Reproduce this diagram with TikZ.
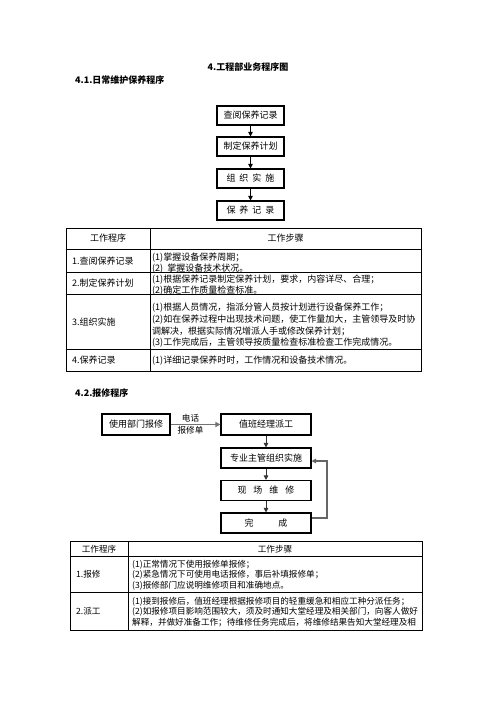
\documentclass[tikz,border=0pt]{standalone}
\usepackage{fontspec}
\setmainfont{Noto Sans CJK SC}
\usetikzlibrary{arrows.meta}
\newcommand\tfA{\fontsize{9}{11}\selectfont}
\newcommand\tfB{\fontsize{8.6}{10}\selectfont}
\begin{document}
\begin{tikzpicture}[x=1pt,y=-1pt,
  fbox/.style={draw=black, line width=1.1pt, inner sep=0, font=\tfA},
  arr/.style={-{Triangle[length=4.5pt,width=4.5pt]}, line width=1pt},
  tl/.style={anchor=base west, inner sep=0, font=\tfA},
  tc/.style={anchor=base, inner sep=0, font=\tfA},
  ul/.style={anchor=base west, inner sep=0, font=\tfB},
  uc/.style={anchor=base, inner sep=0, font=\tfB},
  tbl/.style={line width=0.9pt, draw=black},
  head/.style={inner sep=0, font=\fontsize{9}{9}\selectfont\bfseries}]
\useasboundingbox (0,0) rectangle (496,702);
\fill[white] (0,0) rectangle (496,702);

% headings
\node[head] (title) at (248,67) {4.工程部业务程序图};
\node[head, anchor=west] (sec1) at (75,80) {4.1.日常维护保养程序};
\node[head, anchor=west] (sec2) at (75,393) {4.2.报修程序};

% flowchart 1
\node[fbox, minimum width=67pt, minimum height=19pt] (a1) at (250.5,115.5) {查阅保养记录};
\node[fbox, minimum width=67pt, minimum height=19pt] (a2) at (250.5,146.5) {制定保养计划};
\node[fbox, minimum width=67pt, minimum height=19pt] (a3) at (250.5,178.5) {组\hspace{4pt}织\hspace{4pt}实\hspace{4pt}施};
\node[fbox, minimum width=67pt, minimum height=19pt] (a4) at (250.5,210.5) {保\hspace{4pt}养\hspace{4pt}记\hspace{4pt}录};
\draw[arr] (a1.south) -- (a2.north);
\draw[arr] (a2.south) -- (a3.north);
\draw[arr] (a3.south) -- (a4.north);

% table 1
\draw[tbl] (66,228) rectangle (421,371);
\foreach \yy in {249,272,294,349} \draw[tbl] (66,\yy) -- (421,\yy);
\draw[tbl] (150,228) -- (150,371);
\node[tc] (h1a) at (108,241.5) {工作程序};
\node[tc] (h1b) at (285.5,241.5) {工作步骤};
\node[tl] (p1) at (72,264) {1.查阅保养记录};
\node[tl] (p2) at (72,286.5) {2.制定保养计划};
\node[tl] (p3) at (72,325) {3.组织实施};
\node[tl] (p4) at (72,363.5) {4.保养记录};
\node[tl] (s11) at (152,260.5) {(1)掌握设备保养周期；};
\node[tl] (s12) at (152,271.5) {(2)\hspace{4pt}掌握设备技术状况。};
\node[tl] (s21) at (152,282.5) {(1)根据保养记录制定保养计划，要求，内容详尽、合理；};
\node[tl] (s22) at (152,293.5) {(2)确定工作质量检查标准。};
\node[tl] (s31) at (152,310.5) {(1)根据人员情况，指派分管人员按计划进行设备保养工作；};
\node[tl] (s32) at (152,322.5) {(2)如在保养过程中出现技术问题，使工作量加大，主管领导及时协};
\node[tl] (s33) at (152,334.5) {调解决，根据实际情况增派人手或修改保养计划；};
\node[tl] (s34) at (152,345.5) {(3)工作完成后，主管领导按质量检查标准检查工作完成情况。};
\node[tl] (s41) at (152,363.5) {(1)详细记录保养时时，工作情况和设备技术情况。};

% flowchart 2
\node[fbox, minimum width=68pt, minimum height=21pt] (b1) at (136,424.5) {使用部门报修};
\node[fbox, minimum width=90pt, minimum height=21pt] (b2) at (266,424.5) {值班经理派工};
\node[fbox, minimum width=90pt, minimum height=20pt] (b3) at (266,458) {专业主管组织实施};
\node[fbox, minimum width=90pt, minimum height=20pt] (b4) at (266,490.5) {现\hspace{7pt}场\hspace{7pt}维\hspace{7pt}修};
\node[fbox, minimum width=90pt, minimum height=20pt] (b5) at (266,523) {完\hspace{25pt}成};
\draw[arr, line width=1.8pt, draw=black!55, -{Triangle[length=5pt,width=5pt]}] (b1.east) -- (b2.west)
  node[midway, above=1pt, inner sep=0, font=\tfB, xshift=-5pt] (l1) {电话}
  node[midway, below=1pt, inner sep=0, font=\tfB, xshift=-5pt] (l2) {报修单};
\draw[arr, draw=black!80] (b2.south) -- (b3.north);
\draw[arr, draw=black!80] (b3.south) -- (b4.north);
\draw[arr, draw=black!80] (b4.south) -- (b5.north);
\coordinate (c1) at (327,518);
\coordinate (c2) at (327,461);
\draw[arr, line width=1.4pt, draw=black!60] ([yshift=5pt]b5.east) -- (c1) -- (c2) -- ([yshift=-3pt]b3.east);

% table 2
\draw[tbl] (70,541) -- (422,541);
\draw[tbl] (70,541) -- (70,630) -- (422,630) -- (422,541);
\foreach \yy in {556,592} \draw[tbl] (70,\yy) -- (422,\yy);
\draw[tbl] (128,541) -- (128,630);
\node[uc] (h2a) at (99,552) {工作程序};
\node[uc] (h2b) at (275,552) {工作步骤};
\node[ul] (q1) at (76,577) {1.报修};
\node[ul] (q2) at (76,614) {2.派工};
\node[ul] (r11) at (132,567) {(1)正常情况下使用报修单报修；};
\node[ul] (r12) at (132,577.5) {(2)紧急情况下可使用电话报修，事后补填报修单；};
\node[ul] (r13) at (132,588) {(3)报修部门应说明维修项目和准确地点。};
\node[ul] (r21) at (132,604) {(1)接到报修后，值班经理根据报修项目的轻重缓急和相应工种分派任务；};
\node[ul] (r22) at (132,614.5) {(2)如报修项目影响范围较大，须及时通知大堂经理及相关部门，向客人做好};
\node[ul] (r23) at (132,625) {解释，并做好准备工作；待维修任务完成后，将维修结果告知大堂经理及相};
\end{tikzpicture}
\end{document}
